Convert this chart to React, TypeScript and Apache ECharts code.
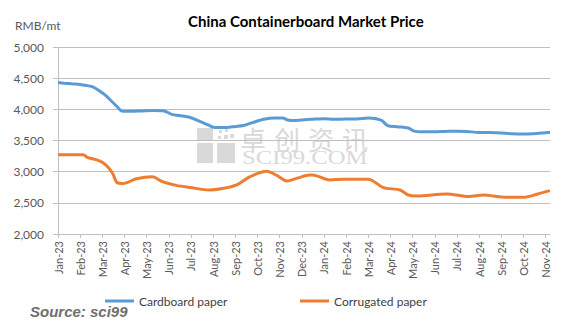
import React, { useEffect, useRef } from "react";
import * as echarts from "echarts";

const monthLabels = [
  "Jan-23", "Feb-23", "Mar-23", "Apr-23", "May-23", "Jun-23", "Jul-23", "Aug-23",
  "Sep-23", "Oct-23", "Nov-23", "Dec-23", "Jan-24", "Feb-24", "Mar-24", "Apr-24",
  "May-24", "Jun-24", "Jul-24", "Aug-24", "Sep-24", "Oct-24", "Nov-24",
];

const yTicks = [2000, 2500, 3000, 3500, 4000, 4500, 5000];

const cardboardDates = [
  "2023-01-01", "2023-01-10", "2023-01-20", "2023-02-01", "2023-02-10", "2023-02-17",
  "2023-02-26", "2023-03-06", "2023-03-14", "2023-03-22", "2023-03-28", "2023-04-10",
  "2023-04-25", "2023-05-10", "2023-05-25", "2023-06-05", "2023-06-15", "2023-06-30",
  "2023-07-15", "2023-07-25", "2023-08-03", "2023-08-20", "2023-09-01", "2023-09-12",
  "2023-09-25", "2023-10-10", "2023-10-25", "2023-11-05", "2023-11-12", "2023-11-20",
  "2023-12-01", "2023-12-15", "2024-01-01", "2024-01-15", "2024-02-01", "2024-02-15",
  "2024-03-01", "2024-03-12", "2024-03-20", "2024-03-28", "2024-04-10", "2024-04-25",
  "2024-05-03", "2024-05-15", "2024-06-01", "2024-06-15", "2024-07-01", "2024-07-15",
  "2024-08-01", "2024-08-15", "2024-09-01", "2024-09-15", "2024-10-01", "2024-10-15",
  "2024-11-01", "2024-11-07",
];
const cardboardValues = [
  4430, 4420, 4410, 4400, 4380, 4360,
  4290, 4220, 4130, 4040, 3975, 3970,
  3975, 3980, 3975, 3920, 3900, 3870,
  3800, 3750, 3710, 3710, 3725, 3740,
  3790, 3840, 3860, 3860, 3830, 3820,
  3830, 3840, 3850, 3840, 3845, 3845,
  3860, 3850, 3820, 3740, 3720, 3700,
  3650, 3640, 3640, 3645, 3650, 3645,
  3630, 3630, 3620, 3610, 3605, 3610,
  3625, 3630,
];

const corrugatedDates = [
  "2023-01-01", "2023-02-05", "2023-02-10", "2023-02-22", "2023-03-01", "2023-03-10",
  "2023-03-16", "2023-03-22", "2023-03-30", "2023-04-17", "2023-05-09", "2023-05-23",
  "2023-06-11", "2023-06-30", "2023-07-27", "2023-08-14", "2023-09-03", "2023-09-21",
  "2023-10-14", "2023-10-28", "2023-11-11", "2023-11-26", "2023-12-12", "2023-12-16",
  "2024-01-09", "2024-01-29", "2024-03-01", "2024-03-22", "2024-04-14", "2024-04-25",
  "2024-05-07", "2024-06-17", "2024-07-18", "2024-08-07", "2024-09-04", "2024-10-02",
  "2024-10-21", "2024-11-07",
];
const corrugatedValues = [
  3270, 3270, 3230, 3190, 3150, 3060,
  2960, 2820, 2810, 2885, 2920, 2840,
  2780, 2745, 2706, 2730, 2790, 2920,
  3005, 2940, 2850, 2900, 2947, 2947,
  2867, 2880, 2880, 2745, 2706, 2626,
  2610, 2642, 2600, 2626, 2590, 2590,
  2642, 2695,
];

const endDate = "2024-11-07";

function monthIndex(d: string): number {
  const [y, m, day] = d.split("-").map(Number);
  const days = new Date(y, m, 0).getDate();
  return (y - 2023) * 12 + (m - 1) + (day - 1) / days;
}

const FONT = "Lato";

export default function App() {
  const ref = useRef<HTMLDivElement>(null);
  useEffect(() => {
    if (!ref.current) return;
    const chart = echarts.init(ref.current, undefined, { renderer: "svg" });
    const wm = "#d9d9d9";
    const cnChars = ["卓", "创", "资", "讯"];
    chart.setOption({
      animation: false,
      backgroundColor: "#ffffff",
      title: {
        text: "China Containerboard Market Price",
        left: 183,
        top: 8,
        textStyle: { fontFamily: FONT, fontSize: 15, fontWeight: "bold", color: "#000000" },
      },
      grid: { left: 58, right: 26, top: 47, bottom: 96, containLabel: false },
      legend: [
        {
          data: ["Cardboard paper"],
          left: 105,
          top: 295,
          icon: "rect",
          itemWidth: 29,
          itemHeight: 3,
          padding: 0,
          textStyle: { fontFamily: FONT, fontSize: 12, color: "#404040" },
        },
        {
          data: ["Corrugated paper"],
          left: 300,
          top: 295,
          icon: "rect",
          itemWidth: 29,
          itemHeight: 3,
          padding: 0,
          textStyle: { fontFamily: FONT, fontSize: 12, color: "#404040" },
        },
      ],
      xAxis: {
        type: "value",
        min: 0,
        max: monthIndex(endDate),
        interval: 1,
        axisLine: { show: true, lineStyle: { color: "#bfbfbf", width: 1 } },
        axisTick: { show: true, length: 4, lineStyle: { color: "#bfbfbf" } },
        splitLine: { show: false },
        axisLabel: {
          rotate: 90,
          margin: 7,
          fontFamily: FONT,
          fontSize: 11,
          color: "#595959",
          showMaxLabel: false,
          formatter: (v: number) => (Number.isInteger(v) ? monthLabels[v] ?? "" : ""),
        },
      },
      yAxis: {
        type: "value",
        min: yTicks[0],
        max: yTicks[yTicks.length - 1],
        interval: 500,
        axisLine: { show: true, lineStyle: { color: "#bfbfbf", width: 1 } },
        axisTick: { show: true, length: 5, lineStyle: { color: "#bfbfbf" } },
        splitLine: { show: true, lineStyle: { color: "#bfbfbf", width: 1 } },
        axisLabel: {
          margin: 14,
          fontFamily: FONT,
          fontSize: 12,
          color: "#595959",
          formatter: (v: number) => v.toLocaleString("en-US"),
        },
      },
      graphic: [
        {
          type: "text",
          left: 15,
          top: 19,
          style: { text: "RMB/mt", fontFamily: FONT, fontSize: 12, fill: "#595959" },
        },
        {
          type: "text",
          left: 30,
          top: 304,
          style: {
            text: "Source: sci99",
            fontFamily: "Liberation Sans",
            fontSize: 15,
            fontWeight: "bold",
            fontStyle: "italic",
            fill: "#6e6e6e",
          },
        },
        {
          type: "group",
          z: -10,
          silent: true,
          children: [
            { type: "rect", shape: { x: 197, y: 128, width: 16, height: 12 }, style: { fill: wm } },
            { type: "rect", shape: { x: 197, y: 143, width: 16, height: 20 }, style: { fill: wm } },
            { type: "rect", shape: { x: 217, y: 143, width: 18, height: 20 }, style: { fill: wm } },
            { type: "rect", shape: { x: 219, y: 130, width: 3, height: 3 }, style: { fill: wm } },
            { type: "rect", shape: { x: 225, y: 129, width: 3, height: 3 }, style: { fill: wm } },
            { type: "rect", shape: { x: 224, y: 135, width: 4, height: 4 }, style: { fill: wm } },
            { type: "rect", shape: { x: 230, y: 134, width: 4, height: 4 }, style: { fill: wm } },
            { type: "rect", shape: { x: 218, y: 136, width: 3, height: 3 }, style: { fill: wm } },
            ...cnChars.map((c, i) => ({
              type: "text",
              x: 240 + i * 34,
              y: 125,
              style: { text: c, fontFamily: "Noto Sans CJK SC", fontSize: 26, fill: wm },
            })),
            {
              type: "text",
              x: 242,
              y: 148,
              scaleX: 1.3,
              style: {
                text: "SCI99.COM",
                fontFamily: "Liberation Serif",
                fontSize: 19,
                fill: wm,
              },
            },
          ],
        },
      ],
      series: [
        {
          name: "Cardboard paper",
          type: "line",
          showSymbol: false,
          smooth: 0.3,
          lineStyle: { width: 3, color: "#5b9bd5" },
          itemStyle: { color: "#5b9bd5" },
          data: cardboardDates.map((d, i) => [monthIndex(d), cardboardValues[i]]),
          z: 3,
        },
        {
          name: "Corrugated paper",
          type: "line",
          showSymbol: false,
          smooth: 0.3,
          lineStyle: { width: 3, color: "#ed7d31" },
          itemStyle: { color: "#ed7d31" },
          data: corrugatedDates.map((d, i) => [monthIndex(d), corrugatedValues[i]]),
          z: 3,
        },
      ],
    });
    return () => chart.dispose();
  }, []);
  return <div ref={ref} style={{ width: 576, height: 330, margin: -8 }} />;
}
